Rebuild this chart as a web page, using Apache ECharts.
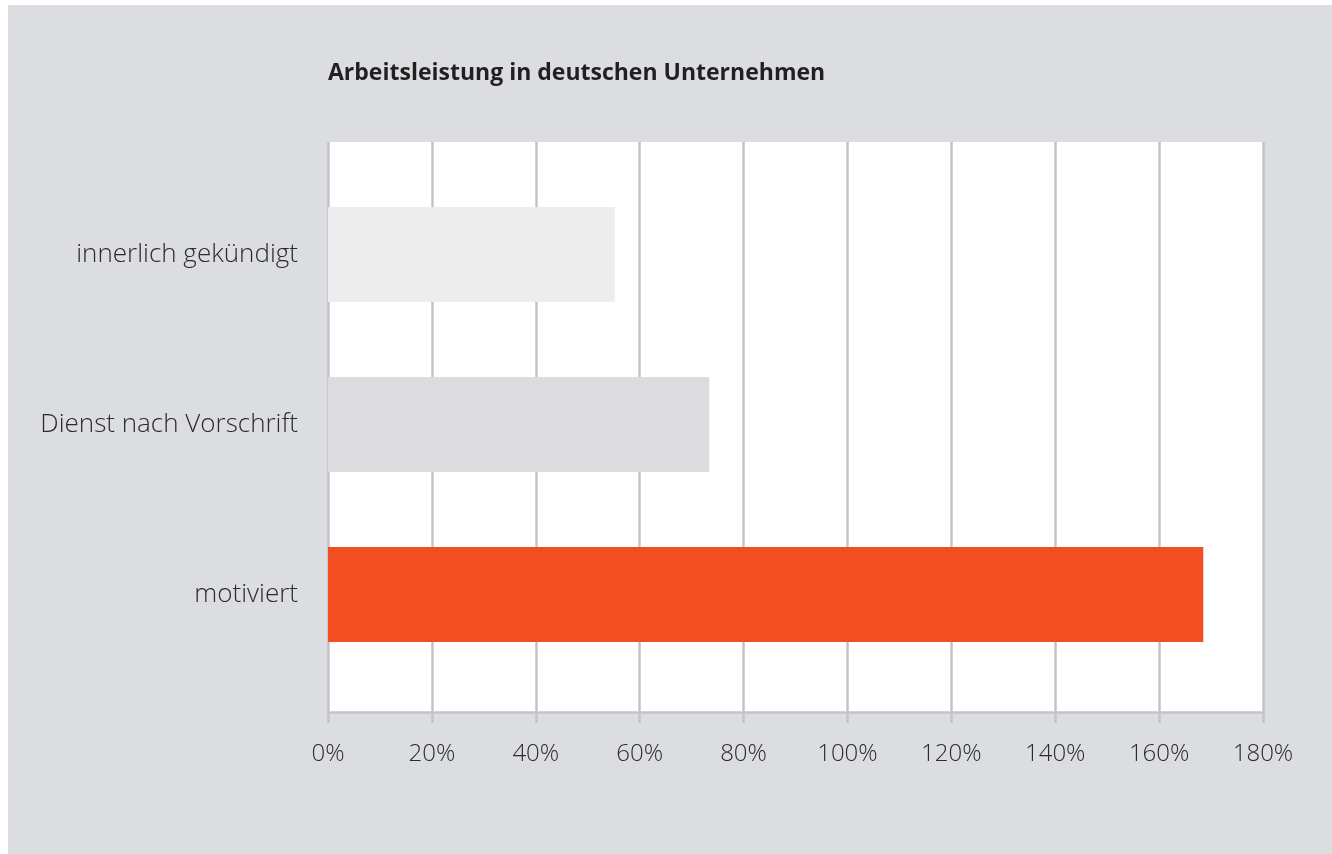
<!DOCTYPE html>
<html>
<head>
<meta charset="utf-8">
<script src="https://cdn.jsdelivr.net/npm/echarts@6/dist/echarts.min.js"></script>
<style>
html,body{margin:0;padding:0;background:#ffffff;}
#chart{position:absolute;left:8px;top:5px;width:1324px;height:849px;}
</style>
</head>
<body>
<div id="chart"></div>
<script>
const titleText = 'Arbeitsleistung in deutschen Unternehmen';
const categories = ['innerlich gekündigt', 'Dienst nach Vorschrift', 'motiviert'];
const values = [55.2, 73.4, 168.5];
const barColors = ['#ededed', '#dcdcdf', '#f24e22'];
const xMin = 0, xMax = 180, xStep = 20;

const chart = echarts.init(document.getElementById('chart'));
const gridColor = '#c4c4c8';
const labelFont = {fontFamily: 'Open Sans', fontWeight: 300, color: '#2b2b2b'};
chart.setOption({
  backgroundColor: '#dcdde0',
  animation: false,
  title: {
    text: titleText,
    left: 315,
    top: 52,
    textStyle: {fontFamily: 'Open Sans', fontWeight: 'bold', fontSize: 23, color: '#231f20'}
  },
  grid: [
    {left: 320, top: 137, right: 69, bottom: 142, show: true, backgroundColor: '#ffffff', borderWidth: 0},
    {left: 320, top: 164.5, right: 69, bottom: 174.5}
  ],
  xAxis: [{
    gridIndex: 0,
    type: 'value',
    min: xMin, max: xMax, interval: xStep,
    axisLine: {show: true, lineStyle: {color: gridColor, width: 2.5}},
    axisTick: {show: true, length: 11, lineStyle: {color: gridColor, width: 2.5}},
    splitLine: {show: true, lineStyle: {color: gridColor, width: 2.5}},
    axisLabel: Object.assign({margin: 30, fontSize: 24, formatter: v => v + '%'}, labelFont)
  }, {
    gridIndex: 1,
    type: 'value',
    min: xMin, max: xMax, interval: xStep,
    show: false
  }],
  yAxis: [{
    gridIndex: 0,
    type: 'value',
    show: false,
    splitLine: {show: false}
  }, {
    gridIndex: 1,
    type: 'category',
    data: categories,
    inverse: true,
    axisLine: {show: false},
    axisTick: {show: false},
    splitLine: {show: false},
    axisLabel: Object.assign({margin: 30, fontSize: 26}, labelFont)
  }],
  series: [{
    type: 'bar',
    xAxisIndex: 1,
    yAxisIndex: 1,
    data: values.map((v, i) => ({value: v, itemStyle: {color: barColors[i]}})),
    barWidth: 95
  }]
});
</script>
</body>
</html>
